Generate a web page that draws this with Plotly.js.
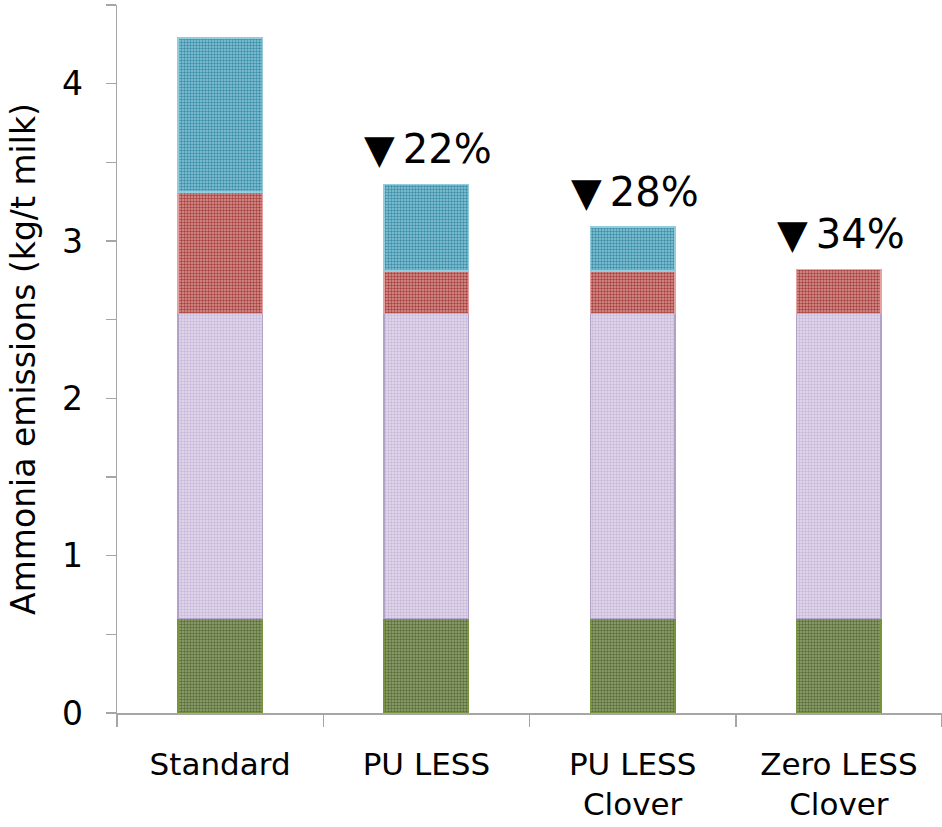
<!DOCTYPE html>
<html>
<head>
<meta charset="utf-8">
<script src="https://cdn.plot.ly/plotly-3.0.1.min.js"></script>
<style>html,body{margin:0;padding:0;background:#fff;}#chart{width:942px;height:827px;}</style>
</head>
<body>
<div id="chart"></div>
<script>
var categories = ["Standard", "PU LESS", "PU LESS<br>Clover", "Zero LESS<br>Clover"];
var seriesGreen = [0.6, 0.6, 0.6, 0.6];
var seriesLavender = [1.94, 1.94, 1.94, 1.94];
var seriesRed = [0.77, 0.27, 0.27, 0.28];
var seriesBlue = [0.98, 0.55, 0.28, 0];
var reductionLabels = ["", "▼\u200922%", "▼\u200928%", "▼\u200934%"];
var yTickVals = [0, 0.5, 1, 1.5, 2, 2.5, 3, 3.5, 4, 4.5];
var yTickText = ["0", "", "1", "", "2", "", "3", "", "4", ""];

var font = "DejaVu Sans, sans-serif";

function bar(vals, fg, bg, line) {
  return {
    type: "bar", x: categories, y: vals,
    marker: {
      color: bg,
      line: {color: line, width: 1.5},
      pattern: {shape: ".", fgcolor: fg, bgcolor: bg, size: 3, solidity: 0.5, fillmode: "replace"}
    },
    hoverinfo: "none", showlegend: false
  };
}

var data = [
  bar(seriesGreen, "#5a6e36", "#93a577", "#77933c"),
  bar(seriesLavender, "#c8b8da", "#e6def0", "#b3a2c7"),
  bar(seriesRed, "#a8403e", "#d89896", "#e6a0a0"),
  bar(seriesBlue, "#3b8fa8", "#8cc6d8", "#93cddd")
];

var totals = categories.map(function(c, i){
  return seriesGreen[i] + seriesLavender[i] + seriesRed[i] + seriesBlue[i];
});

var annotations = [];
for (var i = 0; i < categories.length; i++) {
  if (!reductionLabels[i]) continue;
  annotations.push({
    x: categories[i], y: totals[i], xref: "x", yref: "y",
    text: reductionLabels[i], showarrow: false,
    yanchor: "bottom", yshift: 10, xshift: 2,
    font: {family: font, size: 40, color: "#000"}
  });
}

var layout = {
  width: 942, height: 827,
  margin: {l: 117, r: 0, t: 5, b: 114},
  paper_bgcolor: "#fff", plot_bgcolor: "#fff",
  barmode: "stack", bargap: 0.59,
  font: {family: font, color: "#000"},
  xaxis: {
    type: "category",
    showline: true, linecolor: "#a6a6a6", linewidth: 1.5,
    ticks: "outside", tickson: "boundaries", ticklen: 12, tickcolor: "#a6a6a6", tickwidth: 1.5,
    tickfont: {family: font, size: 31, color: "#000"},
    ticklabelstandoff: 23,
    showgrid: false, zeroline: false
  },
  yaxis: {
    range: [0, 4.5],
    tickvals: yTickVals, ticktext: yTickText,
    showline: true, linecolor: "#a6a6a6", linewidth: 1.5,
    ticks: "outside", ticklen: 10, tickcolor: "#a6a6a6", tickwidth: 1.5,
    tickfont: {family: font, size: 33, color: "#000"},
    ticklabelstandoff: 16,
    showgrid: false, zeroline: false,
    title: {text: "Ammonia emissions (kg/t milk)", font: {family: font, size: 33, color: "#000"}, standoff: 16}
  },
  annotations: annotations
};

Plotly.newPlot("chart", data, layout, {displayModeBar: false, staticPlot: true});
</script>
</body>
</html>
